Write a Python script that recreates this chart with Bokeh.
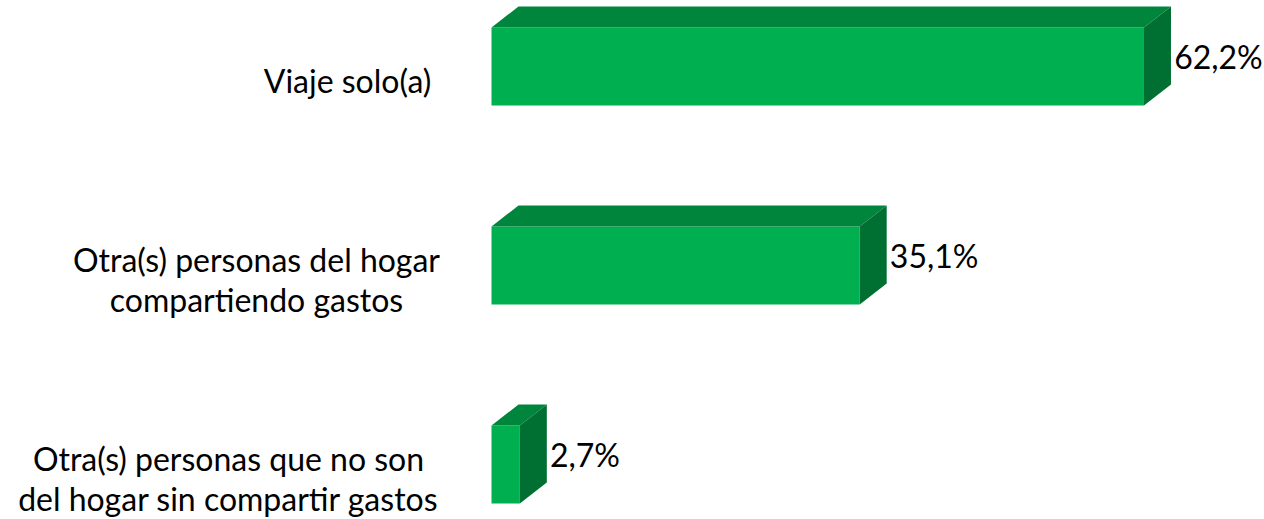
from bokeh.plotting import figure
from bokeh.models import Range1d
from bokeh.core.properties import value
from bokeh.embed import file_html
from bokeh.resources import INLINE

categories = ["Viaje solo(a)",
              "Otra(s) personas del hogar\ncompartiendo gastos",
              "Otra(s) personas que no son\ndel hogar sin compartir gastos"]
values = [62.2, 35.1, 2.7]

# layout constants (pixels)
W, H = 1264, 519
PX_PER_UNIT = 10.49
ORIGIN_PX = 491
ROW_PX = 199.0
FIRST_CENTER_PX = 66
BAR_H = 78 / ROW_PX
DX = 27 / PX_PER_UNIT
DY = 21 / ROW_PX
FONT = "Lato"
FS = "32px"
CHAR_W = 14.0 / PX_PER_UNIT
LABEL_RIGHT = (438 - 491) / PX_PER_UNIT
LINE_GAP = 40 / ROW_PX

FRONT = "#00B050"
TOP = "#00853D"
SIDE = "#006F32"

p = figure(width=W, height=H, output_backend="svg", toolbar_location=None,
           x_range=Range1d(-ORIGIN_PX / PX_PER_UNIT, (W - ORIGIN_PX) / PX_PER_UNIT),
           y_range=Range1d((H - FIRST_CENTER_PX) / ROW_PX, -FIRST_CENTER_PX / ROW_PX),
           min_border=0, outline_line_color=None)
p.axis.visible = False
p.grid.visible = False
p.background_fill_color = "white"
p.border_fill_color = "white"

ys = list(range(len(values)))
tops = [y - BAR_H / 2 for y in ys]
bots = [y + BAR_H / 2 for y in ys]

# front faces
p.quad(left=[0] * len(values), right=values, top=tops, bottom=bots,
       fill_color=FRONT, line_color=None)
# top faces
p.patches(xs=[[0, v, v + DX, DX] for v in values],
          ys=[[t, t, t - DY, t - DY] for t in tops],
          fill_color=TOP, line_color=None)
# side faces
p.patches(xs=[[v, v + DX, v + DX, v] for v in values],
          ys=[[t, t - DY, b - DY, b] for t, b in zip(tops, bots)],
          fill_color=SIDE, line_color=None)

# value labels
p.text(x=[v + DX + 0.3 for v in values],
       y=[y - 10 / ROW_PX for y in ys],
       text=[f"{v:.1f}".replace(".", ",") + "%" for v in values],
       text_font=value(FONT), text_font_size=FS, text_color="black",
       text_align="left", text_baseline="middle")

# category labels (block right aligned, lines centered)
lx, ly, lt = [], [], []
for y, cat in zip(ys, categories):
    lines = cat.split("\n")
    n = len(lines)
    maxc = max(len(l) for l in lines)
    cx = LABEL_RIGHT - maxc * CHAR_W / 2
    for i, line in enumerate(lines):
        lx.append(cx)
        ly.append(y + 14 / ROW_PX + (i - (n - 1) / 2) * LINE_GAP)
        lt.append(line)
p.text(x=lx, y=ly, text=lt, text_font=value(FONT), text_font_size=FS,
       text_color="black", text_align="center", text_baseline="middle")

open("out.html", "w").write(file_html(p, INLINE))
